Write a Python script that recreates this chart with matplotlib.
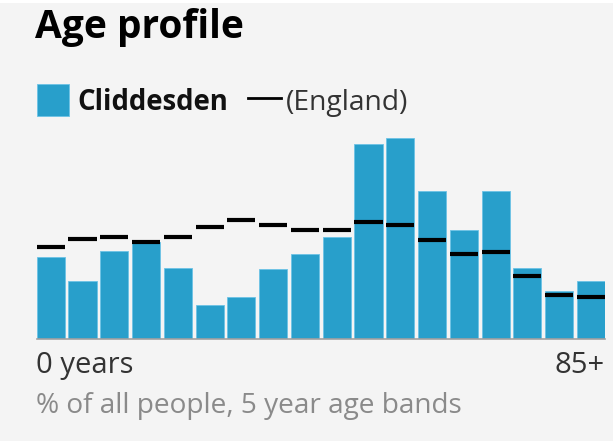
import numpy as np
import matplotlib.pyplot as plt
from matplotlib.patches import Rectangle
from matplotlib.lines import Line2D

# 5 year age bands, % of all people
age_bands = ["0-4", "5-9", "10-14", "15-19", "20-24", "25-29", "30-34", "35-39",
             "40-44", "45-49", "50-54", "55-59", "60-64", "65-69", "70-74",
             "75-79", "80-84", "85+"]
cliddesden = [4.8, 3.4, 5.2, 5.7, 4.2, 2.0, 2.5, 4.1, 5.0, 6.0,
              11.5, 11.8, 8.7, 6.4, 8.7, 4.2, 2.8, 3.4]
england = [5.4, 5.9, 6.0, 5.7, 6.0, 6.6, 7.0, 6.7, 6.4, 6.4,
           6.9, 6.7, 5.8, 5.0, 5.1, 3.7, 2.6, 2.5]

W, H = 613, 441
bg = "#f4f4f4"
blue = "#289fcb"
font = "Open Sans"

fig = plt.figure(figsize=(W / 100, H / 100), dpi=100, facecolor="white")
fig.patches.append(Rectangle((0, 0), 1, 1 - 3 / H, transform=fig.transFigure,
                             facecolor=bg, edgecolor="none", zorder=-10))

def fx(px):
    return px / W

def fy(px):
    return 1 - px / H

# axes: bars span 36.7..605 px, baseline at y=339
left, right, base, top = 36.7, 605, 339, 120
ax = fig.add_axes([fx(left), fy(base), fx(right - left), (base - top) / H])
ax.set_facecolor("none")

x = np.arange(len(age_bands))
bw = 0.885
ax.bar(x, cliddesden, width=bw, color=blue, edgecolor="#6cc3e6", linewidth=0.6)
ax.hlines(england, x - bw / 2, x + bw / 2, color="black", linewidth=3)
ax.set_xlim(-bw / 2, len(age_bands) - 1 + bw / 2)
ax.set_ylim(0, (base - top) / 17.0)
for s in ["top", "right", "left"]:
    ax.spines[s].set_visible(False)
ax.spines["bottom"].set_color("#a0a0a0")
ax.spines["bottom"].set_linewidth(1.2)
ax.set_xticks([])
ax.set_yticks([])

# title
fig.text(fx(35), fy(38), "Age profile", fontsize=28, fontweight="bold",
         family=font, color="black", va="baseline")

# legend
fig.patches.append(Rectangle((fx(37), fy(115.5)), fx(31.5), 31.5 / H,
                             transform=fig.transFigure, facecolor=blue,
                             edgecolor="#6cc3e6", linewidth=0.6))
fig.text(fx(77), fy(110), "Cliddesden", fontsize=19.8, fontweight="bold",
         family=font, color="#111111", va="baseline")
fig.lines.append(Line2D([fx(248), fx(281)], [fy(97.5), fy(97.5)],
                        transform=fig.transFigure, color="black", linewidth=2))
fig.text(fx(286), fy(110), "(England)", fontsize=20.3, family=font,
         color="#333333", va="baseline")

# axis labels
fig.text(fx(36), fy(373), "0 years", fontsize=21, family=font,
         color="#333333", va="baseline")
fig.text(fx(605), fy(373), "85+", fontsize=21, family=font,
         color="#333333", va="baseline", ha="right")
fig.text(fx(36), fy(413), "% of all people, 5 year age bands", fontsize=20.2,
         family=font, color="#8a8a8a", va="baseline")

fig.savefig("out.png", dpi=100, facecolor=fig.get_facecolor())
